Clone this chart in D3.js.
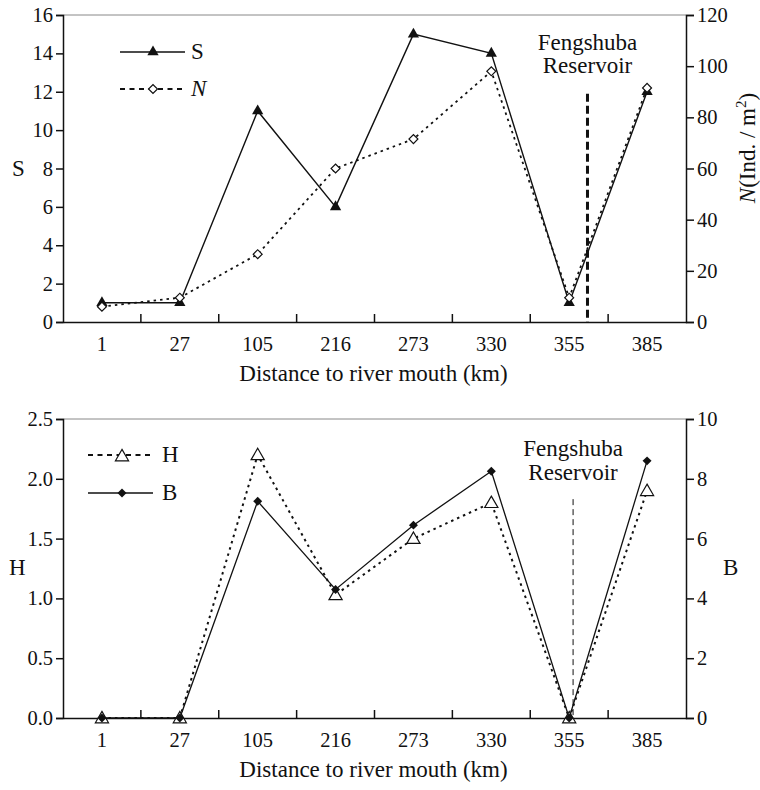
<!DOCTYPE html>
<html><head><meta charset="utf-8">
<script src="https://cdn.jsdelivr.net/npm/d3@7"></script>
</head>
<body style="margin:0;background:#fff"><svg id="c" width="760" height="790" font-family="Liberation Serif"></svg>
<script>
const categories = ["1","27","105","216","273","330","355","385"];
const S = [1, 1, 11, 6, 15, 14, 1, 12];
const N = [6, 9.5, 26.5, 60, 71.5, 98, 9.5, 91.5];
const H = [0, 0, 2.2, 1.03, 1.5, 1.8, 0, 1.9];
const B = [0, 0, 7.25, 4.3, 6.45, 8.25, 0, 8.6];
const sTicks = [0,2,4,6,8,10,12,14,16];
const nTicks = [0,20,40,60,80,100,120];
const hTicks = [0,0.5,1.0,1.5,2.0,2.5];
const bTicks = [0,2,4,6,8,10];
const xTitle = "Distance to river mouth (km)";

const FONT = '"Liberation Serif"';
const FS = 20.5, FT = 23;
const svg = d3.select("#c");
const L = 63, R = 686;
const x = d3.scaleBand().domain(categories).range([L, R]);
const cx = c => x(c) + x.bandwidth()/2;
function txt(g, xx, yy, s, size){
  return g.append("text").attr("x",xx).attr("y",yy).attr("font-size",size||FT)
    .style("font-family",FONT).attr("fill","#111").text(s);
}

function panel(top, bottom, yLdom, yRdom, lt, rt, lfmt){
  const g = svg.append("g");
  const yL = d3.scaleLinear().domain(yLdom).range([bottom, top]);
  const yR = d3.scaleLinear().domain(yRdom).range([bottom, top]);
  g.append("line").attr("x1",L).attr("x2",R).attr("y1",top).attr("y2",top)
    .attr("stroke","#888").attr("stroke-width",1);
  const ax = g.append("g").attr("transform",`translate(${L},0)`)
    .call(d3.axisLeft(yL).tickValues(lt).tickSize(7).tickPadding(3).tickFormat(lfmt));
  const ar = g.append("g").attr("transform",`translate(${R},0)`)
    .call(d3.axisRight(yR).tickValues(rt).tickSize(8).tickPadding(3).tickFormat(d3.format("d")));
  const ab = g.append("g").attr("transform",`translate(0,${bottom})`)
    .call(d3.axisBottom(x).tickSize(0).tickPadding(14));
  ab.selectAll(".bt").data(categories.slice(1)).enter().append("line")
    .attr("x1",d=>x(d)).attr("x2",d=>x(d)).attr("y1",0).attr("y2",-8)
    .attr("stroke","#111").attr("stroke-width",1.5);
  [ax,ar,ab].forEach(a=>{
    a.attr("font-family","Liberation Serif");
    a.selectAll("text").attr("font-size",FS).style("font-family",FONT).attr("fill","#111");
    a.selectAll("path.domain").attr("stroke","#111").attr("stroke-width",1.5);
    a.selectAll(".tick line").attr("stroke","#111").attr("stroke-width",1.5);
  });
  ab.selectAll(".tick text").attr("dy","0.71em");
  txt(g,(L+R)/2 - 1, bottom+59, xTitle).attr("text-anchor","middle");
  return {g,yL,yR};
}

// ---------- top panel ----------
const P1 = panel(15, 322, [0,16], [0,120], sTicks, nTicks, d3.format("d"));
const line = d3.line();
const tri = d3.symbol().type(d3.symbolTriangle);
const sq = d3.symbol().type(d3.symbolSquare);

P1.g.append("path").attr("d", line(categories.map((c,i)=>[cx(c),P1.yL(S[i])])))
  .attr("fill","none").attr("stroke","#111").attr("stroke-width",1.4);
P1.g.selectAll(".st").data(S).enter().append("path")
  .attr("transform",(d,i)=>`translate(${cx(categories[i])},${P1.yL(d)})`)
  .attr("d",tri.size(55)()).attr("fill","#111");
P1.g.append("path").attr("d", line(categories.map((c,i)=>[cx(c),P1.yR(N[i])])))
  .attr("fill","none").attr("stroke","#111").attr("stroke-width",1.8).attr("stroke-dasharray","2.5,4");
P1.g.selectAll(".nd").data(N).enter().append("path")
  .attr("transform",(d,i)=>`translate(${cx(categories[i])},${P1.yR(d)}) rotate(45)`)
  .attr("d",sq.size(40)()).attr("fill","#fff").attr("stroke","#111").attr("stroke-width",1.2);

const resX1 = cx("355") + x.bandwidth()*0.235;
P1.g.append("line").attr("x1",resX1).attr("x2",resX1).attr("y1",P1.yL(11.9)).attr("y2",P1.yL(0))
  .attr("stroke","#111").attr("stroke-width",3).attr("stroke-dasharray","8,4");
txt(P1.g,resX1,50,"Fengshuba").attr("text-anchor","middle");
txt(P1.g,resX1,73,"Reservoir").attr("text-anchor","middle");

P1.g.append("line").attr("x1",120).attr("x2",185).attr("y1",52).attr("y2",52).attr("stroke","#111").attr("stroke-width",1.4);
P1.g.append("path").attr("transform","translate(153,52)").attr("d",tri.size(55)()).attr("fill","#111");
txt(P1.g,191,59,"S");
P1.g.append("line").attr("x1",120).attr("x2",184).attr("y1",89).attr("y2",89).attr("stroke","#111").attr("stroke-width",1.8).attr("stroke-dasharray","5,4.5");
P1.g.append("path").attr("transform","translate(153,89) rotate(45)").attr("d",sq.size(40)()).attr("fill","#fff").attr("stroke","#111").attr("stroke-width",1.2);
txt(P1.g,191,96,"N").attr("font-style","italic");

txt(P1.g,12,176,"S");
const nl = P1.g.append("text").attr("transform","translate(755,148) rotate(-90)").attr("text-anchor","middle")
  .attr("font-size",FT).style("font-family",FONT).attr("fill","#111");
nl.append("tspan").attr("font-style","italic").text("N");
nl.append("tspan").text("(Ind. / m");
nl.append("tspan").attr("font-size",15).attr("dy",-9).text("2");
nl.append("tspan").attr("dy",9).text(")");

// ---------- bottom panel ----------
const P2 = panel(419, 718, [0,2.5], [0,10], hTicks, bTicks, d3.format(".1f"));
P2.g.append("path").attr("d", line(categories.map((c,i)=>[cx(c),P2.yL(H[i])])))
  .attr("fill","none").attr("stroke","#111").attr("stroke-width",2).attr("stroke-dasharray","2.5,4");
P2.g.selectAll(".ht").data(H).enter().append("path")
  .attr("transform",(d,i)=>`translate(${cx(categories[i])},${P2.yL(d)+1})`)
  .attr("d",tri.size(75)()).attr("fill","#fff").attr("stroke","#111").attr("stroke-width",1.2);
P2.g.append("path").attr("d", line(categories.map((c,i)=>[cx(c),P2.yR(B[i])])))
  .attr("fill","none").attr("stroke","#111").attr("stroke-width",1.3);
P2.g.selectAll(".bd").data(B).enter().append("path")
  .attr("transform",(d,i)=>`translate(${cx(categories[i])},${P2.yR(d)}) rotate(45)`)
  .attr("d",sq.size(40)()).attr("fill","#111");

const resX2 = cx("355") + x.bandwidth()*0.05;
P2.g.append("line").attr("x1",resX2).attr("x2",resX2).attr("y1",P2.yL(1.83)).attr("y2",P2.yL(0))
  .attr("stroke","#111").attr("stroke-width",1).attr("stroke-dasharray","6,4");
txt(P2.g,resX2,456,"Fengshuba").attr("text-anchor","middle");
txt(P2.g,resX2,480,"Reservoir").attr("text-anchor","middle");

P2.g.append("line").attr("x1",88).attr("x2",150).attr("y1",455).attr("y2",455).attr("stroke","#111").attr("stroke-width",1.8).attr("stroke-dasharray","5,4.5");
P2.g.append("path").attr("transform","translate(122,457)").attr("d",tri.size(75)()).attr("fill","#fff").attr("stroke","#111").attr("stroke-width",1.2);
txt(P2.g,162,462,"H");
P2.g.append("line").attr("x1",88).attr("x2",153).attr("y1",493).attr("y2",493).attr("stroke","#111").attr("stroke-width",1.3);
P2.g.append("path").attr("transform","translate(122,493) rotate(45)").attr("d",sq.size(40)()).attr("fill","#111");
txt(P2.g,162,500,"B");

txt(P2.g,9,575,"H");
txt(P2.g,723,575,"B");
</script></body></html>
